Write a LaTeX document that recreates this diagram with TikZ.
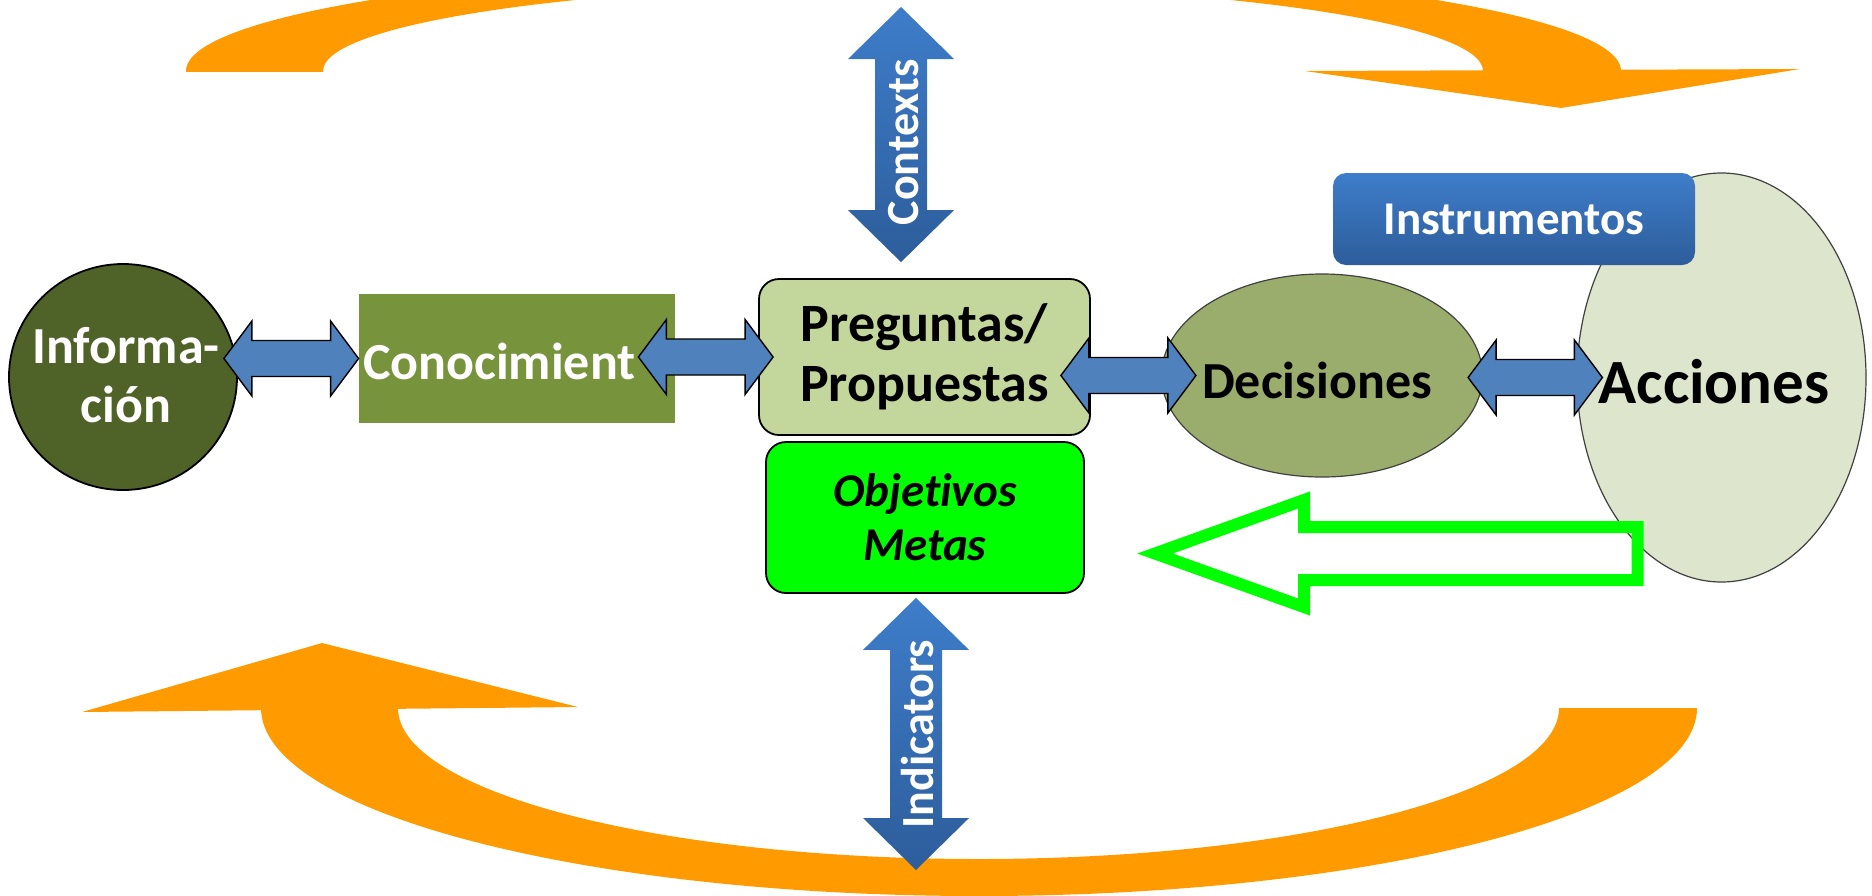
\documentclass[tikz,border=0pt]{standalone}
\usepackage{fontspec}
\setmainfont{Carlito}[Ligatures=NoCommon]
\usetikzlibrary{calc,shapes.geometric}
\definecolor{cycleorange}{RGB}{255,155,0}
\definecolor{infofill}{RGB}{79,98,40}
\definecolor{conocfill}{RGB}{119,147,60}
\definecolor{pregfill}{RGB}{195,214,155}
\definecolor{objfill}{RGB}{0,255,0}
\definecolor{decisfill}{RGB}{155,173,108}
\definecolor{accfill}{RGB}{221,229,205}
\definecolor{arrowblue}{RGB}{79,129,189}
\definecolor{shadetop}{RGB}{62,125,202}
\definecolor{shadebot}{RGB}{45,93,155}
\definecolor{rimgray}{RGB}{64,64,64}
\begin{document}
\begin{tikzpicture}[x=0.5pt,y=-0.5pt,
  txt/.style 2 args={inner sep=0,font=\fontsize{#1}{#2}\selectfont\bfseries},
  blob/.style={ellipse,inner sep=0,draw=rimgray,line width=0.6pt},
  panel/.style={rectangle,rounded corners=10pt,draw=black,line width=0.9pt,inner sep=0,align=center},
  biarrow/.style={draw=black,line width=0.7pt,fill=arrowblue,
    to path={let \p1=(\tikztostart),\p2=(\tikztotarget) in
      (\x1,\y2) -- (\x1+14pt,\y2+18.75pt) -- (\x1+14pt,\y2+9pt) -- (\x2-14pt,\y2+9pt)
      -- (\x2-14pt,\y2+18.75pt) -- (\x2,\y2) -- (\x2-14pt,\y2-18.75pt) -- (\x2-14pt,\y2-9pt)
      -- (\x1+14pt,\y2-9pt) -- (\x1+14pt,\y2-18.75pt) -- cycle}},
  vbiarrow/.style={top color=shadetop,bottom color=shadebot,
    to path={let \p1=(\tikztostart),\p2=(\tikztotarget) in
      (\x1,\y1) -- (\x1+26.5pt,\y1-26pt) -- (\x1+13pt,\y1-26pt) -- (\x1+13pt,\y2+26pt)
      -- (\x1+26.5pt,\y2+26pt) -- (\x1,\y2) -- (\x1-26.5pt,\y2+26pt) -- (\x1-13pt,\y2+26pt)
      -- (\x1-13pt,\y1-26pt) -- (\x1-26.5pt,\y1-26pt) -- cycle}},
  vlabel/.style={txt={23}{26},text=white,rotate=90}]
\useasboundingbox (0,0) rectangle (1872,895);

% orange cycle
\begin{scope}
  \clip (-20,-200) rectangle (1900,71);
  \fill[cycleorange,even odd rule] (903.5,71) ellipse[x radius=717.5,y radius=106]
    (903,71) ellipse[x radius=580,y radius=86];
\end{scope}
\fill[cycleorange] (1305,71) -- (1800,69) -- (1561,108) -- cycle;
\begin{scope}
  \clip (-20,708) rectangle (1900,1000);
  \fill[cycleorange,even odd rule] (979,708) ellipse[x radius=718,y radius=188]
    (978.5,708) ellipse[x radius=580.5,y radius=151];
\end{scope}
\fill[cycleorange] (82,712) -- (322,643) -- (578,707) -- cycle;

% shapes
\node[blob,draw=black,line width=0.9pt,fill=infofill,minimum width=114pt,minimum height=113pt] (info) at (123,377) {};
\node[rectangle,fill=conocfill,minimum width=158pt,minimum height=64.5pt,inner sep=0] (conoc) at (517,358.5) {};
\node[panel,fill=pregfill,minimum width=165.5pt,minimum height=78pt,txt={27}{30}] (preg) at (924.5,357) {Preguntas/\\Propuestas};
\node[panel,fill=objfill,minimum width=159pt,minimum height=75.5pt,font=\fontsize{23.5}{27}\selectfont\bfseries\itshape] (obj) at (925,517.5) {Objetivos\\Metas};
\node[blob,fill=decisfill,minimum width=160.5pt,minimum height=101.5pt] (decis) at (1322,375.5) {};
\node[blob,fill=accfill,minimum width=144.5pt,minimum height=204.5pt] (acc) at (1721.5,377.5) {};
\node[rectangle,rounded corners=6.5pt,top color=shadetop,bottom color=shadebot,minimum width=181pt,minimum height=46pt,txt={23.5}{27},text=white] (instr) at (1514,219) {Instrumentos};

% feedback arrow
\draw[objfill,line width=6pt,line join=miter] (1637.5,527) -- (1304,527) -- (1304,500) -- (1155,553.5)
  -- (1304,607) -- (1304,580) -- (1637.5,580) -- cycle;

% connectors
\draw[biarrow] ([xshift=-7pt]info.east) to (conoc.west);
\draw[biarrow] ([xshift=-18.5pt]conoc.east) to ([xshift=7.5pt]preg.west);
\draw[biarrow] ([xshift=-15pt]preg.east) to ([xshift=17.5pt]decis.west);
\draw[biarrow] ([xshift=-7.5pt]decis.east) to ([xshift=13pt]acc.west);
\coordinate (ctxtop) at (901,7);
\coordinate (indbot) at (916,870);
\path[vbiarrow] (ctxtop) to ([yshift=8pt]preg.north);
\path[vbiarrow] ($(obj.south -| indbot)+(0,4)$) to (indbot);

% labels
\node[txt={26}{29.5},text=white,align=center] (infolabel) at (126,375) {Informa-\\ción};
\node[txt={26}{29.5},text=white,anchor=west] (conoclabel) at ([xshift=2pt,yshift=-1.25pt]conoc.west) {Conocimient};
\node[txt={26}{29.5}] (decislabel) at (1317,380) {Decisiones};
\node[txt={31.5}{35}] (acclabel) at (1714,382) {Acciones};
\node[vlabel] (ctxlabel) at (904,142) {Contexts};
\node[vlabel] (indlabel) at (918,734) {Indicators};
\end{tikzpicture}
\end{document}
